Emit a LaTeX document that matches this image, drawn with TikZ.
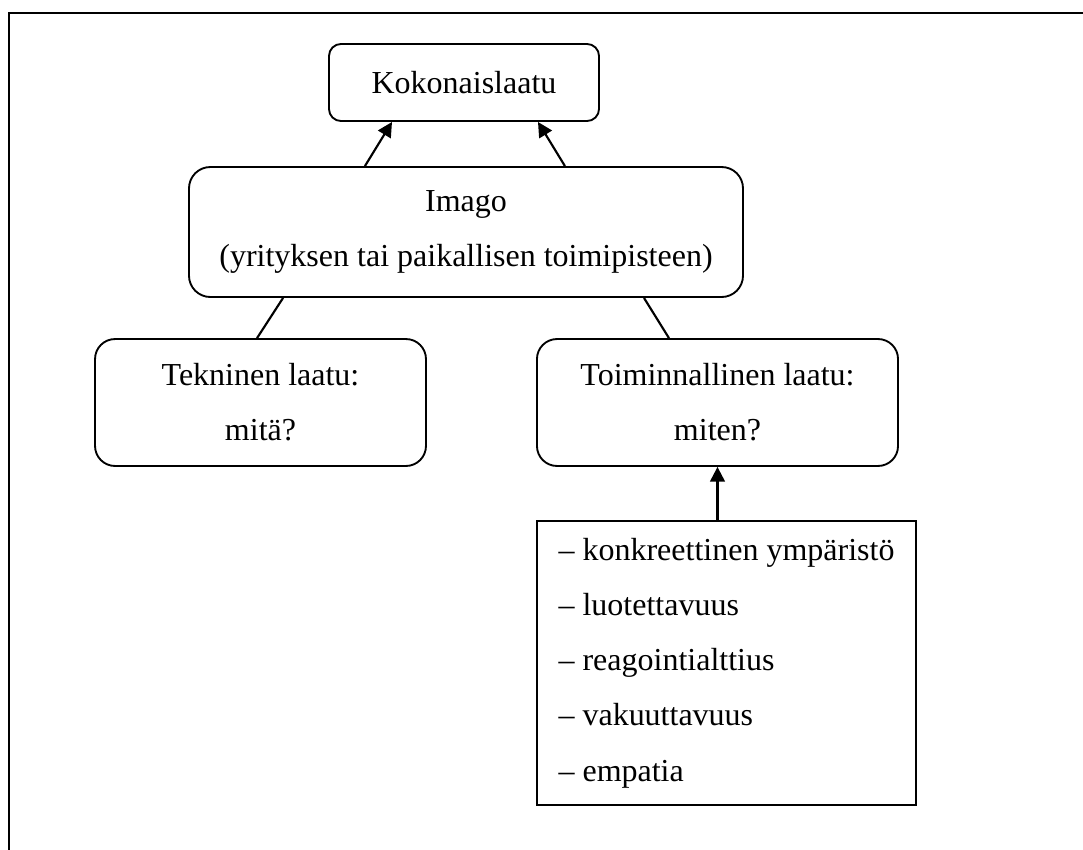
\documentclass[tikz,border=0pt]{standalone}
\usepackage{fontspec}
\setmainfont{Liberation Serif}
\usetikzlibrary{arrows.meta}

\begin{document}
\begin{tikzpicture}[x=0.375pt, y=-0.375pt,
    every node/.style={font=\fontsize{12}{20.7}\selectfont, align=center, inner sep=0pt},
    roundbox/.style={draw, line width=0.7pt, rounded corners=#1},
    roundbox/.default=7.5pt,
    conn/.style={line width=0.8pt},
    arr/.style={line width=0.8pt, -{Triangle[length=5.5pt, width=5.5pt]}}]
    \useasboundingbox (0,0) rectangle (1083,850);

    % Frame
    \draw[line width=0.9pt] (9,850) -- (9,13) -- (1083,13);

    % Boxes
    \node[roundbox=4.5pt, minimum width=101.25pt, minimum height=28.9pt] (kok) at (464,82.5) {Kokonaislaatu};
    \node[roundbox=8pt, minimum width=207.75pt, minimum height=48.75pt] (imago) at (466,232) {Imago\\(yrityksen tai paikallisen toimipisteen)};
    \node[roundbox, minimum width=124.1pt, minimum height=47.6pt] (tekn) at (260.5,402.5) {Tekninen laatu:\\mitä?};
    \node[roundbox, minimum width=135.4pt, minimum height=47.6pt] (toim) at (717.5,402.5) {Toiminnallinen laatu:\\miten?};
    \node[draw, line width=0.7pt, align=left, minimum width=142.1pt, minimum height=106.5pt] (lista) at (726.5,663) {– konkreettinen ympäristö\\– luotettavuus\\– reagointialttius\\– vakuuttavuus\\– empatia};

    % Connectors
    \draw[arr] ([xshift=-37.9pt]imago.north) -- ([xshift=-27pt]kok.south);
    \draw[arr] ([xshift=37.1pt]imago.north) -- ([xshift=27.75pt]kok.south);
    \draw[conn] ([xshift=-68.6pt]imago.south) -- ([xshift=-1.3pt]tekn.north);
    \draw[conn] ([xshift=66.75pt]imago.south) -- ([xshift=-18.2pt]toim.north);
    \draw[arr] (lista.north -| toim.south) -- (toim.south);
\end{tikzpicture}
\end{document}
